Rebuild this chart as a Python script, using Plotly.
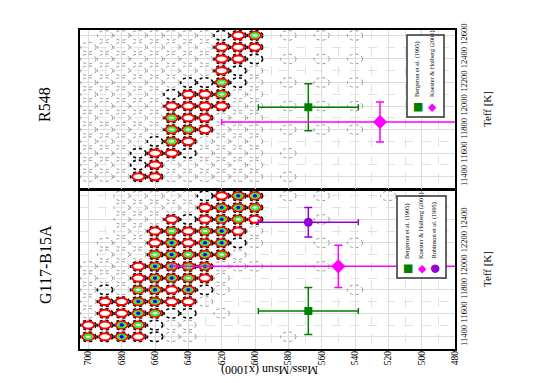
import plotly.graph_objects as go

# ---------------- data ----------------
mass_cols = [700, 690, 680, 670, 660, 650, 640, 630, 620, 610, 600,
             590, 580, 570, 560, 550, 540, 530, 520]
teff_rows = [12600, 12500, 12400, 12300, 12200, 12100, 12000,
             11900, 11800, 11700, 11600, 11500, 11400]

# fit quality per grid cell: 0 none, 1 faint dotted, 2 dark dotted,
# 3 red, 4 red+green, 5 red+green+blue
g117_levels = [
    "0011111235501010001",
    "0011111355400000000",
    "0011132354300010000",
    "0011343453100000000",
    "0111353552100010100",
    "0111454541000000000",
    "1113554511100010000",
    "1113554310000000000",
    "1214535210000000100",
    "1335533100000000000",
    "1335422010000000000",
    "3354211000000000000",
    "4353211000001000000",
]
r548_levels = [
    "0111111123401010100",
    "1111111133300000000",
    "1111111133201010100",
    "1111111132100000000",
    "1111112242101010100",
    "1111123341100000000",
    "1111133331101010100",
    "1111143311100000000",
    "1111144311101010100",
    "1111243111100000000",
    "1112332111101000000",
    "1112311111100000000",
    "1113311111101000000",
]

g117_names = ["Bergeron et al. (1995)", "Koester & Holberg (2001)", "Robinson et al. (1995)"]
g117_mass = [568, 550, 568]
g117_mass_err = [30, 100, 30]
g117_teff = [11620, 12000, 12375]
g117_teff_err = [200, 180, 125]

r548_names = ["Bergeron et al. (1995)", "Koester & Holberg (2001)"]
r548_mass = [568, 525]
r548_mass_err = [30, 95]
r548_teff = [11990, 11865]
r548_teff_err = [200, 170]

mass_ticks = [700, 680, 660, 640, 620, 600, 580, 560, 540, 520, 500, 480]
teff_ticks_upper = [11400, 11600, 11800, 12000, 12200, 12400, 12600]
teff_ticks_lower = [11400, 11600, 11800, 12000, 12200, 12400]

# ---------------- styles ----------------
W, H = 536, 383
SERIF = "Liberation Serif, Times New Roman, serif"
src_style = {
    "Bergeron et al. (1995)": dict(color="#008000", symbol="square", size=8, glyph="\u25A0"),
    "Koester & Holberg (2001)": dict(color="#ff00ff", symbol="diamond", size=11, glyph="\u25C6"),
    "Robinson et al. (1995)": dict(color="#9400d3", symbol="circle", size=9, glyph="\u25CF"),
}

def fx(px):
    return px / W

def fy(py):
    return 1 - py / H

fig = go.Figure()
shapes = []

def grid_shapes(levels, xref, yref):
    out = []
    for r, row in enumerate(levels):
        t = teff_rows[r]
        for c, ch in enumerate(row):
            lv = int(ch)
            if lv == 0:
                continue
            m = mass_cols[c]
            if lv == 1:
                line = dict(color="#8a8a8a", width=0.9, dash="dot")
            else:
                line = dict(color="black", width=1.6, dash="dot")
            out.append(dict(type="circle", xref=xref, yref=yref, layer="between",
                            x0=m - 4.6, x1=m + 4.6, y0=t - 41, y1=t + 41, line=line))
            if lv >= 3:
                out.append(dict(type="circle", xref=xref, yref=yref, layer="between",
                                x0=m - 3.6, x1=m + 3.6, y0=t - 30, y1=t + 30,
                                line=dict(color="#ff0000", width=2), fillcolor="white"))
            if lv >= 4:
                out.append(dict(type="circle", xref=xref, yref=yref, layer="between",
                                x0=m - 2.2, x1=m + 2.2, y0=t - 18, y1=t + 18,
                                line=dict(color="#33ee33", width=2), fillcolor="white"))
            if lv >= 5:
                out.append(dict(type="circle", xref=xref, yref=yref, layer="between",
                                x0=m - 1.1, x1=m + 1.1, y0=t - 10, y1=t + 10,
                                line=dict(color="#0000ff", width=1), fillcolor="#0000ff"))
    return out

shapes += grid_shapes(g117_levels, "x", "y")
shapes += grid_shapes(r548_levels, "x2", "y2")

def add_obs(names, mass, merr, teff, terr, xa, ya):
    for n, m, me, t, te in zip(names, mass, merr, teff, terr):
        st = src_style[n]
        fig.add_trace(go.Scatter(
            x=[m], y=[t], xaxis=xa, yaxis=ya, mode="markers", name=n, showlegend=False,
            marker=dict(color=st["color"], symbol=st["symbol"], size=st["size"]),
            error_x=dict(type="data", array=[me], color=st["color"], thickness=1.5, width=3),
            error_y=dict(type="data", array=[te], color=st["color"], thickness=1.5, width=4),
        ))

add_obs(g117_names, g117_mass, g117_mass_err, g117_teff, g117_teff_err, "x", "y")
add_obs(r548_names, r548_mass, r548_mass_err, r548_teff, r548_teff_err, "x2", "y2")

# ---------------- legends (rotated) ----------------
annotations = []
def legend_box(names, x0, x1, y0, y1, text_x, text_bottom, sym_y):
    shapes.append(dict(type="rect", xref="paper", yref="paper", layer="above",
                       x0=fx(x0), x1=fx(x1), y0=fy(y1), y1=fy(y0),
                       line=dict(color="#333333", width=1.5), fillcolor="white"))
    for n, tx in zip(names, text_x):
        annotations.append(dict(xref="paper", yref="paper", x=fx(tx), y=fy(text_bottom),
                                text=n, textangle=-90, showarrow=False,
                                xanchor="center", yanchor="bottom",
                                font=dict(family=SERIF, size=6.3, color="black")))
        st = src_style[n]
        annotations.append(dict(xref="paper", yref="paper", x=fx(tx), y=fy(sym_y),
                                text=st["glyph"], showarrow=False, textangle=-90,
                                xanchor="center", yanchor="middle",
                                font=dict(family="DejaVu Sans", size=11, color=st["color"])))

legend_box(r548_names, 407, 444, 35, 117, [417, 431.5], 99, 107.5)
legend_box(g117_names, 397, 446, 196, 278, [407, 420.5, 433.5], 261, 269)

# ---------------- labels ----------------
def lab(px, py, text, size, angle=-90):
    return dict(xref="paper", yref="paper", x=fx(px), y=fy(py), text=text, textangle=angle,
                showarrow=False, xanchor="center", yanchor="middle",
                font=dict(family=SERIF, size=size, color="black"))

annotations += [
    lab(45, 105, "R548", 16),
    lab(45, 265, "G117-B15A", 16),
    lab(487, 109, "Teff [K]", 11),
    lab(487, 269, "Teff [K]", 11),
    lab(270, 370, "Mass/Msun (x1000)", 12, 180),
]

# ---------------- axes ----------------
xdom = [fx(80), fx(455)]
ydom_low = [fy(348.5), fy(190)]
ydom_up = [fy(188.5), fy(29.5)]

common_x = dict(range=[705, 480], domain=xdom, showline=True, mirror=True,
                linecolor="black", linewidth=1.5, showgrid=True, gridcolor="#dcdcdc",
                gridwidth=1, tickmode="array", tickvals=mass_ticks, ticks="",
                minor=dict(dtick=10, tick0=480, showgrid=True, gridcolor="#e2e2e2",
                           griddash="dash", gridwidth=1),
                zeroline=False, tickangle=-90, automargin=False, ticklabelstandoff=-3,
                tickfont=dict(family=SERIF, size=9.5, color="black"))
common_y = dict(range=[11300, 12650], side="right", showline=True, mirror=True,
                linecolor="black", linewidth=1.5, showgrid=True, gridcolor="#dcdcdc",
                gridwidth=1, ticks="", tickangle=-90, zeroline=False, tickformat="d",
                automargin=False,
                minor=dict(dtick=100, tick0=11400, showgrid=True, gridcolor="#e2e2e2",
                           griddash="dash", gridwidth=1),
                tickfont=dict(family=SERIF, size=8.5, color="black"))

fig.update_layout(
    width=W, height=H, margin=dict(l=0, r=0, t=0, b=0),
    paper_bgcolor="white", plot_bgcolor="white", showlegend=False,
    xaxis=dict(common_x, anchor="y"),
    yaxis=dict(common_y, domain=ydom_low, anchor="x", tickmode="array", tickvals=teff_ticks_lower),
    xaxis2=dict(common_x, anchor="y2", showticklabels=False),
    yaxis2=dict(common_y, domain=ydom_up, anchor="x2", tickmode="array", tickvals=teff_ticks_upper),
    shapes=shapes, annotations=annotations,
)

fig.write_html("out.html", config={"displayModeBar": False},
               post_script="document.body.style.margin='0px';document.body.style.overflow='hidden';")
